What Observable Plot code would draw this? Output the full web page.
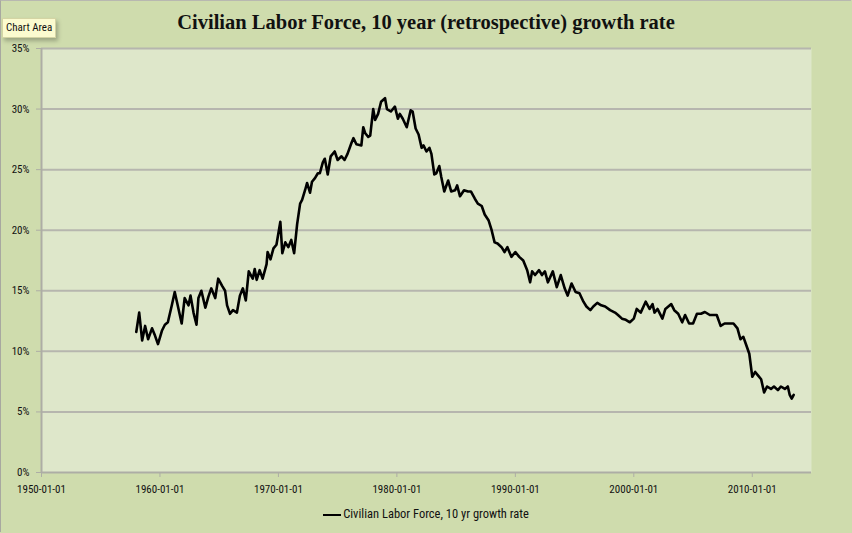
<!DOCTYPE html>
<html><head><meta charset="utf-8">
<script src="https://cdn.jsdelivr.net/npm/d3@7"></script>
<script src="https://cdn.jsdelivr.net/npm/@observablehq/plot@0.6"></script>
<style>
html,body{margin:0;padding:0;}
body{width:852px;height:533px;background:#cfdcad;position:relative;overflow:hidden;font-family:"Liberation Sans Narrow","Arial Narrow","Roboto Condensed","Liberation Sans",sans-serif;color:#111;}
#border{position:absolute;left:0;top:0;width:851px;height:532px;border-left:1px solid #a8a8a0;border-top:1px solid #b8b8b0;box-sizing:border-box;pointer-events:none;}
#title{position:absolute;top:11px;left:0;width:852px;text-align:center;font-family:"Liberation Serif","DejaVu Serif",serif;font-weight:bold;font-size:20.5px;color:#111;white-space:nowrap;}
#chart{position:absolute;left:0;top:40px;}
#legend{position:absolute;top:506px;left:0;width:852px;text-align:center;font-size:12.5px;white-space:nowrap;}
#legend .sw{display:inline-block;width:18px;height:0;border-top:2.5px solid #000;vertical-align:middle;margin-right:2px;}
#tip{position:absolute;left:2px;top:18px;padding:1px 3px;height:16px;line-height:16px;font-size:11px;background:#fbfbcf;border:1px solid #d4d4a4;box-shadow:2px 3px 4px rgba(0,0,0,0.25);}
</style>
</head><body>
<div id="title">Civilian Labor Force, 10 year (retrospective) growth rate</div>
<div id="chart"></div>
<div id="legend"><span class="sw"></span>Civilian Labor Force, 10 yr growth rate</div>
<div id="tip">Chart Area</div>
<div id="border"></div>
<script>
const seriesName = "Civilian Labor Force, 10 yr growth rate";
const dates = [
"1958-01","1958-04","1958-07","1958-10","1959-01","1959-05","1959-08","1959-11","1960-03","1960-06","1960-09",
"1961-01","1961-04","1961-07","1961-11","1962-02","1962-06","1962-08","1962-11","1963-02","1963-04","1963-07","1963-11",
"1964-02","1964-05","1964-09","1964-12","1965-04","1965-07","1965-09","1965-12","1966-03","1966-07","1966-10",
"1967-01","1967-04","1967-07","1967-11","1968-01","1968-03","1968-06","1968-09","1969-01","1969-02","1969-05","1969-08","1969-11",
"1970-03","1970-05","1970-08","1970-11","1971-02","1971-05","1971-08","1971-11","1972-01","1972-04","1972-06","1972-09","1972-11",
"1973-02","1973-05","1973-07","1973-10","1973-12","1974-03","1974-06","1974-10","1975-01","1975-05","1975-08","1975-11",
"1976-03","1976-05","1976-08","1977-01","1977-03","1977-05","1977-08","1977-10","1978-01","1978-03","1978-06","1978-09",
"1979-01","1979-03","1979-07","1979-11","1980-02","1980-04","1980-07","1980-11","1981-03","1981-05","1981-08","1981-11",
"1982-02","1982-04","1982-07","1982-10","1982-12","1983-03","1983-05","1983-08","1983-10","1984-01","1984-05","1984-08","1984-12",
"1985-02","1985-05","1985-09","1986-01","1986-04","1986-08","1986-11","1987-03","1987-06","1987-10","1988-01","1988-04","1988-07","1988-11",
"1989-02","1989-05","1989-09","1990-01","1990-05","1990-09","1991-01","1991-04","1991-06","1991-09","1992-01","1992-04","1992-07","1992-10",
"1993-03","1993-07","1993-11","1994-03","1994-06","1994-10","1995-02","1995-06","1995-10","1996-01","1996-05","1996-08","1996-12",
"1997-04","1997-08","1998-01","1998-06","1998-09","1999-01","1999-05","1999-09","2000-01","2000-04","2000-08","2001-01","2001-05","2001-08","2001-10",
"2002-01","2002-06","2002-09","2003-03","2003-06","2003-10","2004-02","2004-05","2004-09","2005-01","2005-05","2005-09","2006-01","2006-06","2006-10",
"2007-01","2007-05","2007-09","2008-02","2008-06","2008-10","2009-01","2009-04","2009-07","2009-10","2010-01","2010-04","2010-07","2010-10",
"2011-01","2011-04","2011-08","2011-11","2012-03","2012-06","2012-10","2013-01","2013-03","2013-05","2013-07"
];
const values = [
11.6,13.2,10.9,12.1,11.0,11.9,11.3,10.6,11.7,12.2,12.4,
13.8,14.9,13.8,12.3,14.4,13.8,14.6,13.2,12.2,14.4,15.0,13.6,
14.5,15.2,14.4,16.0,15.4,15.0,13.8,13.1,13.4,13.2,14.6,
15.2,14.2,16.6,16.0,16.8,15.9,16.7,16.0,17.2,18.2,17.6,18.5,18.8,
20.7,18.1,19.0,18.6,19.2,18.1,20.5,22.2,22.5,23.3,23.9,23.1,24.0,
24.3,24.7,24.7,25.6,25.9,24.6,26.1,26.5,25.8,26.1,25.8,26.3,
27.2,27.6,27.1,27.0,28.5,28.0,27.7,27.8,30.0,29.1,29.6,30.6,
30.9,30.0,29.8,30.2,29.2,29.6,29.2,28.5,29.9,29.8,28.4,27.9,
26.8,27.0,26.5,26.8,26.3,24.6,24.7,25.3,24.4,23.2,24.1,23.2,23.3,
23.7,22.8,23.3,23.2,23.2,22.6,22.2,22.0,21.3,20.8,20.0,19.0,18.9,18.6,
18.2,18.6,17.8,18.2,17.8,17.5,16.7,15.7,16.6,16.3,16.7,16.3,16.6,15.7,
16.6,15.3,16.3,15.2,14.6,15.6,14.9,14.8,14.1,13.7,13.4,13.7,14.0,
13.8,13.7,13.4,13.2,13.0,12.7,12.6,12.4,12.7,13.5,13.2,14.1,13.5,13.9,13.2,
13.5,12.7,13.5,13.9,13.4,13.1,12.4,13.0,12.3,12.3,13.1,13.1,13.25,13.0,13.0,
13.0,12.1,12.3,12.3,12.3,11.9,11.0,11.2,10.5,9.8,7.9,8.3,8.0,7.7,
6.6,7.1,6.9,7.1,6.8,7.1,6.9,7.1,6.4,6.1,6.4
];
const xTickLabels = ["1950-01-01","1960-01-01","1970-01-01","1980-01-01","1990-01-01","2000-01-01","2010-01-01"];
const yTicks = [0,5,10,15,20,25,30,35];
const xDomain = ["1950-01-01","2015-01-01"];

const parseMonth = d3.utcParse("%Y-%m");
const parseDay = d3.utcParse("%Y-%m-%d");
const data = dates.map((d,i)=>({date: parseMonth(d), value: values[i]}));
const xTicks = xTickLabels.map(parseDay);
const gray = "#adada5";
const font = '"Liberation Sans Narrow","Arial Narrow","Roboto Condensed","Liberation Sans",sans-serif';

const chart = Plot.plot({
  width: 852, height: 460,
  marginLeft: 41, marginRight: 41, marginTop: 8, marginBottom: 28,
  style: {background: "transparent", fontFamily: font, fontSize: "11px", color: "#111"},
  x: {type: "utc", domain: xDomain.map(parseDay), axis: null},
  y: {domain: [0, 35], axis: null},
  marks: [
    Plot.frame({fill: "#dee7ca", stroke: null}),
    Plot.gridY(yTicks.filter(d=>d>0), {stroke: "#b6b6ae", strokeOpacity: 1, strokeWidth: 2}),
    Plot.ruleX([parseDay(xDomain[0])], {stroke: gray, strokeWidth: 2}),
    Plot.ruleY([0], {stroke: gray, strokeWidth: 2}),
    Plot.axisY(yTicks, {tickFormat: d => d + "%", tickSize: 5, tickPadding: 7, stroke: gray, fill: "#111", label: null}),
    Plot.axisX(xTicks, {tickFormat: d3.utcFormat("%Y-%m-%d"), tickSize: 5, tickPadding: 8, stroke: gray, fill: "#111", label: null}),
    Plot.lineY(data, {x: "date", y: "value", stroke: "#000", strokeWidth: 2.6, strokeLinejoin: "round"})
  ]
});
document.getElementById("chart").appendChild(chart);
</script>
</body></html>
